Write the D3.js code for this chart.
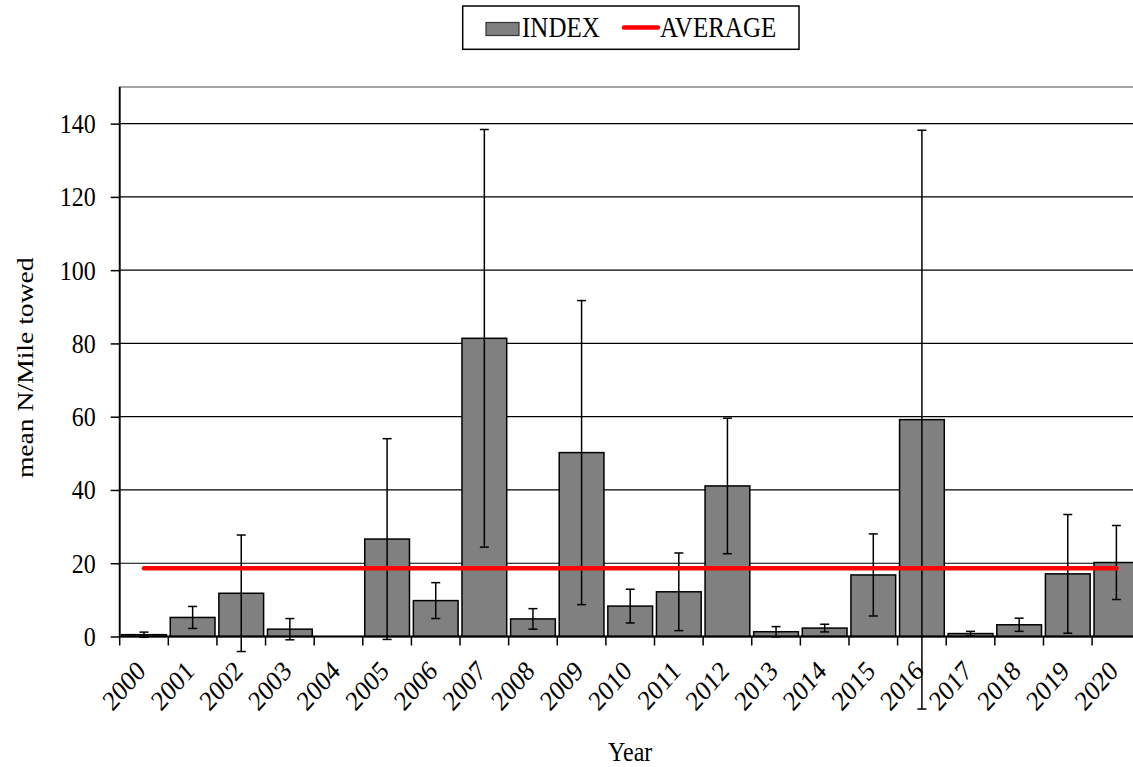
<!DOCTYPE html>
<html>
<head>
<meta charset="utf-8">
<script src="https://cdn.jsdelivr.net/npm/d3@7"></script>
<style>
  body { margin: 0; background: #fff; }
  svg { display: block; font-family: "Liberation Serif", "Times New Roman", serif; }
</style>
</head>
<body>
<svg id="chart" width="1133" height="767"></svg>
<script>
// data
const years = ["2000","2001","2002","2003","2004","2005","2006","2007","2008","2009","2010",
               "2011","2012","2013","2014","2015","2016","2017","2018","2019","2020"];
const index = [0.5, 5.2, 11.8, 2.0, 0, 26.6, 9.8, 81.4, 4.8, 50.2, 8.3,
               12.2, 41.1, 1.3, 2.3, 16.8, 59.2, 0.8, 3.2, 17.1, 20.2];
const errors = [0.7, 3.0, 15.9, 2.9, 0, 27.4, 4.9, 57.0, 2.8, 41.5, 4.6,
                10.6, 18.5, 1.4, 1.05, 11.2, 79.0, 0.6, 1.8, 16.2, 10.1];
const average = 18.6;
const yTicks = [0, 20, 40, 60, 80, 100, 120, 140];

const svg = d3.select("#chart");

const plotLeft = 119.7, plotRight = 1140.7, plotTop = 87, plotBottom = 636.5;
// the source picture is a bit taller than wide, so text is stretched vertically
const stretch = "scale(1,1.15)";

const x = d3.scaleBand()
    .domain(years)
    .range([plotLeft, plotRight])
    .paddingInner(0.08)
    .paddingOuter(0.04);

const y = d3.scaleLinear()
    .domain([0, 150])
    .range([plotBottom, plotTop]);

// plot area border (top/right in gray)
svg.append("rect")
    .attr("x", plotLeft).attr("y", plotTop)
    .attr("width", plotRight - plotLeft).attr("height", plotBottom - plotTop)
    .attr("fill", "none")
    .attr("stroke", "#888")
    .attr("stroke-width", 1.5);

// gridlines
svg.append("g")
    .selectAll("line")
    .data(yTicks.filter(d => d > 0))
    .join("line")
    .attr("x1", plotLeft).attr("x2", plotRight)
    .attr("y1", d => y(d)).attr("y2", d => y(d))
    .attr("stroke", "#000")
    .attr("stroke-width", 1.2);

// y axis
const yAxis = svg.append("g")
    .attr("transform", "translate(" + plotLeft + ",0)")
    .call(d3.axisLeft(y).tickValues(yTicks).tickSize(9).tickPadding(15).tickSizeOuter(0));
yAxis.select(".domain").remove();
yAxis.selectAll("line").attr("stroke", "#000").attr("stroke-width", 1.5);
yAxis.selectAll("text")
    .attr("font-size", 24)
    .attr("fill", "#000")
    .attr("font-family", "Liberation Serif, serif")
    .attr("transform", stretch);
svg.append("line")
    .attr("x1", plotLeft).attr("x2", plotLeft)
    .attr("y1", plotTop).attr("y2", plotBottom)
    .attr("stroke", "#000").attr("stroke-width", 1.8);

// bars
svg.append("g")
    .selectAll("rect")
    .data(years)
    .join("rect")
    .attr("x", (d, i) => x(d))
    .attr("y", (d, i) => y(index[i]))
    .attr("width", x.bandwidth())
    .attr("height", (d, i) => y(0) - y(index[i]))
    .attr("fill", "#808080")
    .attr("stroke", "#000")
    .attr("stroke-width", 1.5);

// x axis line and ticks at category boundaries
const step = x.step();
const boundaries = d3.range(years.length + 1).map(i => plotLeft + i * step);
svg.append("line")
    .attr("x1", plotLeft).attr("x2", plotRight)
    .attr("y1", y(0)).attr("y2", y(0))
    .attr("stroke", "#000").attr("stroke-width", 1.8);
svg.append("g")
    .selectAll("line")
    .data(boundaries)
    .join("line")
    .attr("x1", d => d).attr("x2", d => d)
    .attr("y1", y(0)).attr("y2", y(0) + 9)
    .attr("stroke", "#000").attr("stroke-width", 1.5);

// x labels
svg.append("g")
    .selectAll("text")
    .data(years)
    .join("text")
    .attr("transform", d => "translate(" + (x(d) + x.bandwidth() / 2 + 3) + "," + (plotBottom + 36) + ") " + stretch + " rotate(-45)")
    .attr("text-anchor", "end")
    .attr("font-size", 24.5)
    .text(d => d);

// error bars
const cx = d => x(d) + x.bandwidth() / 2;
const iOf = d => years.indexOf(d);
const eb = svg.append("g")
    .selectAll("g")
    .data(years.filter((d, i) => errors[i] > 0))
    .join("g")
    .attr("stroke", "#000")
    .attr("stroke-width", 1.5);
eb.append("line")
    .attr("x1", cx).attr("x2", cx)
    .attr("y1", d => y(index[iOf(d)] + errors[iOf(d)]))
    .attr("y2", d => y(index[iOf(d)] - errors[iOf(d)]));
eb.append("line")
    .attr("x1", d => cx(d) - 4.5).attr("x2", d => cx(d) + 4.5)
    .attr("y1", d => y(index[iOf(d)] + errors[iOf(d)]))
    .attr("y2", d => y(index[iOf(d)] + errors[iOf(d)]));
eb.append("line")
    .attr("x1", d => cx(d) - 4.5).attr("x2", d => cx(d) + 4.5)
    .attr("y1", d => y(index[iOf(d)] - errors[iOf(d)]))
    .attr("y2", d => y(index[iOf(d)] - errors[iOf(d)]));

// average line
svg.append("path")
    .datum(years)
    .attr("d", d3.line().x(d => cx(d)).y(() => y(average)))
    .attr("fill", "none")
    .attr("stroke", "#ff0000")
    .attr("stroke-width", 4.5)
    .attr("stroke-linecap", "round");

// axis titles
svg.append("text")
    .attr("transform", "translate(" + ((plotLeft + plotRight) / 2) + ",761) " + stretch)
    .attr("text-anchor", "middle")
    .attr("font-size", 24)
    .text("Year");
svg.append("text")
    .attr("transform", "translate(33," + ((plotTop + plotBottom) / 2 + 6) + ") " + stretch + " rotate(-90)")
    .attr("text-anchor", "middle")
    .attr("font-size", 24)
    .text("mean N/Mile towed");

// legend
const lg = svg.append("g");
lg.append("rect")
    .attr("x", 462.7).attr("y", 6).attr("width", 336.3).attr("height", 43.3)
    .attr("fill", "#fff").attr("stroke", "#000").attr("stroke-width", 1.5);
lg.append("rect")
    .attr("x", 486).attr("y", 22.5).attr("width", 33).attr("height", 13)
    .attr("fill", "#808080").attr("stroke", "#333").attr("stroke-width", 1.2);
lg.append("text")
    .attr("transform", "translate(522,36.5) " + stretch)
    .attr("font-size", 25)
    .text("INDEX");
lg.append("line")
    .attr("x1", 624).attr("x2", 658).attr("y1", 27.5).attr("y2", 27.5)
    .attr("stroke", "#ff0000").attr("stroke-width", 4.5).attr("stroke-linecap", "round");
lg.append("text")
    .attr("transform", "translate(660,36.5) " + stretch)
    .attr("font-size", 25)
    .text("AVERAGE");
</script>
</body>
</html>
